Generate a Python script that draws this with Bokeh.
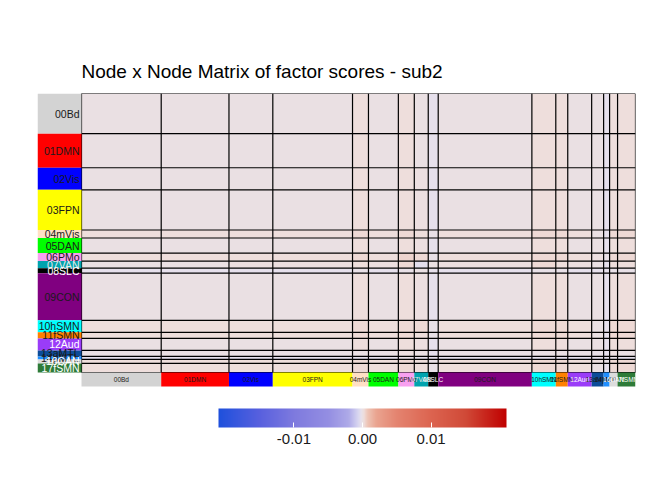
import numpy as np
from bokeh.plotting import figure
from bokeh.models import (ColumnDataSource, Range1d, LinearColorMapper, ColorBar,
                          FixedTicker, PrintfTickFormatter)
from bokeh.transform import transform
from bokeh.core.properties import value
from bokeh.embed import file_html
from bokeh.resources import INLINE

# ---------------- data ----------------
networks = ["00Bd", "01DMN", "02Vis", "03FPN", "04mVis", "05DAN", "06PMo", "07VAN",
            "08SLC", "09CON", "10hSMN", "11fSMN", "12Aud", "13aMTL", "14pMTL",
            "16CAN", "17fSMN"]
node_counts = [40, 34, 22, 40, 8, 15, 8, 7, 5, 47, 12, 6, 12, 6, 3, 4, 9]
net_colors = ["#D3D3D3", "#FF0000", "#0000FF", "#FFFF00", "#FFE0C4", "#00FF00",
              "#F8A0F0", "#00A3AE", "#000000", "#800080", "#00FFFF", "#FF8000",
              "#9A3CF8", "#0B4C99", "#1F8FFF", "#DCDCDC", "#2E7B38"]
label_colors = ["#1A1A1A", "#1A1A1A", "#1A1A1A", "#1A1A1A", "#1A1A1A", "#1A1A1A",
                "#1A1A1A", "#E8E8E8", "#FFFFFF", "#1A1A1A", "#1A1A1A", "#1A1A1A",
                "#FFFFFF", "#1A1A1A", "#1A1A1A", "#FFFFFF", "#FFFFFF"]

# block factor scores, in units of 1e-4
scores_e4 = [
    [0, 0, 0, 0, 2, 0, 2, 0, -2, 0, 2, 2, 0, 0, -2, 2, 2],
    [0, 0, 0, 0, 2, 0, 2, 0, -2, 0, 2, 2, 0, 0, -2, 2, 2],
    [0, 0, 0, 0, 2, 0, 2, 1, -2, 0, 2, 2, 0, 0, -2, 2, 2],
    [0, 0, 0, 0, 2, 0, 2, 1, -2, 0, 2, 2, 0, 0, -2, 2, 2],
    [2, 2, 2, 2, 3, 2, 3, 2, -1, 2, 3, 3, 2, 0, -2, 3, 3],
    [0, 0, 0, 0, 2, 0, 2, 1, -2, 0, 2, 2, 0, 0, -2, 2, 2],
    [2, 2, 2, 2, 3, 2, 4, 3, -1, 2, 3, 3, 2, 1, -1, 3, 3],
    [0, 0, 1, 1, 2, 1, 3, -3, 0, 1, 3, 2, 1, 0, -2, 2, 2],
    [-2, -2, -2, -2, -1, -2, -1, 0, -2, -2, -1, -1, -2, -2, -2, -1, -1],
    [0, 0, 0, 0, 2, 0, 2, 1, -2, 0, 2, 2, 0, 0, -2, 2, 2],
    [2, 2, 2, 2, 3, 2, 3, 3, -1, 2, 3, 3, 2, 0, -2, 3, 3],
    [2, 2, 2, 2, 3, 2, 3, 2, -1, 2, 3, 3, 2, 0, -2, 3, 3],
    [0, 0, 0, 0, 2, 0, 2, 1, -2, 0, 2, 2, 0, 0, -2, 2, 2],
    [0, 0, 0, 0, 0, 0, 1, 0, -2, 0, 0, 0, 0, -1, -2, 1, 0],
    [-2, -2, -2, -2, -2, -2, -1, -2, -2, -2, -2, -2, -2, -2, -3, -1, -2],
    [2, 2, 2, 2, 3, 2, 3, 2, -1, 2, 3, 3, 2, 1, -1, 3, 3],
    [2, 2, 2, 2, 3, 2, 3, 2, -1, 2, 3, 3, 2, 0, -2, 3, 3],
]
cbar_ticks = [-0.01, 0.0, 0.01]
cbar_low, cbar_high = -0.021, 0.021
title_text = "Node x Node Matrix of factor scores - sub2"

# ---------------- palette (style) ----------------
stops = [(-0.021, "#1E50DC"), (-0.015, "#5860DE"), (-0.010, "#7E7ADE"),
         (-0.005, "#948EE2"), (-0.002, "#AEAAE8"), (-0.0007, "#D6D4F0"),
         (-0.0002, "#E6E0EC"), (0.0, "#EAE0E3"), (0.0002, "#EEDEDC"),
         (0.0007, "#EEC6B8"), (0.002, "#EAA490"), (0.005, "#E48470"),
         (0.010, "#DC6450"), (0.015, "#D04A38"), (0.021, "#C00000")]
sv = np.array([s[0] for s in stops])
rgb = np.array([[int(c[i:i + 2], 16) for i in (1, 3, 5)] for _, c in stops], float)
grid = np.linspace(cbar_low, cbar_high, 2048)
palette = []
for g in grid:
    r = np.interp(g, sv, rgb[:, 0]); gg = np.interp(g, sv, rgb[:, 1]); b = np.interp(g, sv, rgb[:, 2])
    palette.append("#%02x%02x%02x" % (int(round(r)), int(round(gg)), int(round(b))))
mapper = LinearColorMapper(palette=palette, low=cbar_low, high=cbar_high)

# ---------------- geometry ----------------
N = sum(node_counts)
cum = np.concatenate([[0], np.cumsum(node_counts)]).astype(float)
FONT = value("Liberation Sans")

x_left = -N * 44.0 / 554.0          # label column width
band = N * 14.0 / 279.0             # bottom label band
y_bottom = N * (1 + 88.0 / 279.0)

p = figure(width=672, height=480, output_backend="svg", toolbar_location=None,
           x_range=Range1d(x_left, N), y_range=Range1d(y_bottom, 0),
           x_axis_location=None, y_axis_location=None,
           min_border_left=37, min_border_right=37, min_border_top=93, min_border_bottom=20)
p.grid.visible = False
p.outline_line_color = None
p.background_fill_color = "white"
p.border_fill_color = "white"

p.title.text = title_text
p.title.text_font = "Liberation Sans"
p.title.text_font_size = "19px"
p.title.text_font_style = "normal"
p.title.text_color = "black"
p.title.offset = 44
p.title.standoff = 24

# heatmap blocks
L, R, T, B, V = [], [], [], [], []
for i in range(len(networks)):
    for j in range(len(networks)):
        L.append(cum[j]); R.append(cum[j + 1]); T.append(cum[i]); B.append(cum[i + 1])
        V.append(scores_e4[i][j] * 1e-4)
src = ColumnDataSource(dict(left=L, right=R, top=T, bottom=B, val=V))
p.quad(left="left", right="right", top="top", bottom="bottom", source=src,
       fill_color=transform("val", mapper), line_color=None)

# boundary lines
xs, ys = [], []
for c in cum:
    xs.append([c, c]); ys.append([0, N])
    xs.append([0, N]); ys.append([c, c])
p.multi_line(xs=xs, ys=ys, line_color="black", line_width=1.2)

# left label column
mids = (cum[:-1] + cum[1:]) / 2
lsrc = ColumnDataSource(dict(top=cum[:-1], bottom=cum[1:], mid=mids, name=networks,
                             col=net_colors, tcol=label_colors))
p.quad(left=x_left, right=0, top="top", bottom="bottom", fill_color="col",
       line_color=None, source=lsrc)
p.text(x=0, y="mid", text="name", source=lsrc, x_offset=-2, text_align="right",
       text_baseline="middle", text_font=FONT, text_font_size="10.5px", text_color="tcol")

# bottom label band
bsrc = ColumnDataSource(dict(left=cum[:-1], right=cum[1:], mid=mids, name=networks,
                             col=net_colors, tcol=label_colors))
p.quad(left="left", right="right", top=N, bottom=N + band, fill_color="col",
       line_color=None, source=bsrc)
p.text(x="mid", y=N + band / 2, text="name", source=bsrc, text_align="center",
       text_baseline="middle", text_font=FONT, text_font_size="6.5px", text_color="tcol")

# colour bar
cb = ColorBar(color_mapper=mapper, orientation="horizontal", location=(181, 14),
              width=288, height=19, padding=0, margin=0,
              ticker=FixedTicker(ticks=cbar_ticks),
              formatter=PrintfTickFormatter(format="%.2f"),
              major_label_text_font="Liberation Sans", major_label_text_font_size="15px",
              major_label_text_color="#1A1A1A", label_standoff=6,
              major_tick_line_color="white", major_tick_in=5, major_tick_out=0,
              minor_tick_line_color=None, bar_line_color=None, border_line_color=None,
              background_fill_color=None)
p.add_layout(cb, "center")

open("out.html", "w").write(file_html(p, INLINE))
